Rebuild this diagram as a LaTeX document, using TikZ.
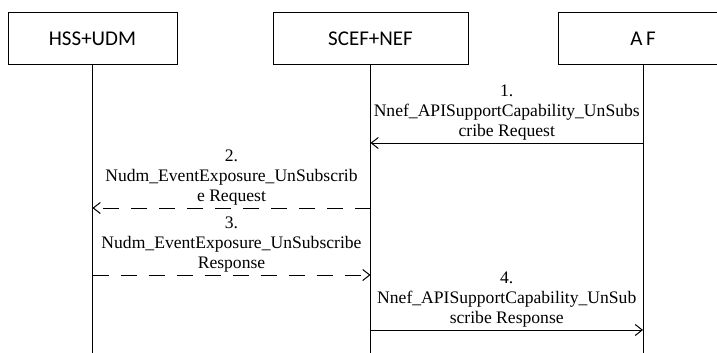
\documentclass[tikz,border=0pt]{standalone}
\usepackage{fontspec}
\setmainfont{Liberation Serif}
\newfontfamily\labfont{Liberation Serif}
\newfontfamily\boxfont{Carlito}
\usetikzlibrary{arrows.meta}
\definecolor{ink}{RGB}{0,0,0}

\begin{document}
\begin{tikzpicture}[x=0.5pt, y=-0.5pt,
    entity/.style={draw=ink, line width=0.5pt, minimum width=84.5pt,
      minimum height=26pt, inner sep=0pt, font=\boxfont\fontsize{10.5}{12}\selectfont},
    life/.style={draw=ink, line width=0.5pt},
    msg/.style={-{Straight Barb[length=3.5pt,width=5.5pt]}, color=ink, line width=0.5pt},
    reply/.style={msg, dash pattern=on 8pt off 6pt},
    lab/.style={font=\labfont\fontsize{8.8}{10}\selectfont, align=center, inner sep=0pt,
      anchor=south, color=ink}]

  \useasboundingbox (0,0) rectangle (717,353);
  \clip (0,0) rectangle (717,353);

  % ---- the three parties -----------------------------------------------------
  \node[entity] (hss) at (92.5,39) {HSS+UDM};
  \node[entity, minimum width=97.5pt] (scef) at (370.5,39) {SCEF+NEF};
  \node[entity] (af) at (643,39) {A\,F};

  % lifelines run down to the bottom edge
  \foreach \n in {hss,scef,af} {
    \coordinate (\n-end) at (\n.south |- 0,353);
    \draw[life] (\n.south) -- (\n-end);
  }

  % ---- message points on the lifelines ---------------------------------------
  \foreach \k/\y in {1/143, 2/208, 3/275, 4/330} {
    \coordinate (hss-\k) at (hss.south |- 0,\y);
    \coordinate (scef-\k) at (scef.south |- 0,\y);
    \coordinate (af-\k) at (af.south |- 0,\y);
  }

  % ---- the four messages -----------------------------------------------------
  \draw[msg] (af-1) -- node[lab, yshift=1pt]
    {1.\\Nnef\_APISupportCapability\_UnSubs\\cribe Request} (scef-1);
  \draw[reply] (scef-2) -- node[lab, yshift=1pt]
    {2.\\Nudm\_EventExposure\_UnSubscrib\\e Request} (hss-2);
  \draw[reply] (hss-3) -- node[lab, yshift=1pt]
    {3.\\Nudm\_EventExposure\_UnSubscribe\\Response} (scef-3);
  \draw[msg] (scef-4) -- node[lab, yshift=1pt]
    {4.\\Nnef\_APISupportCapability\_UnSub\\scribe Response} (af-4);
\end{tikzpicture}
\end{document}
